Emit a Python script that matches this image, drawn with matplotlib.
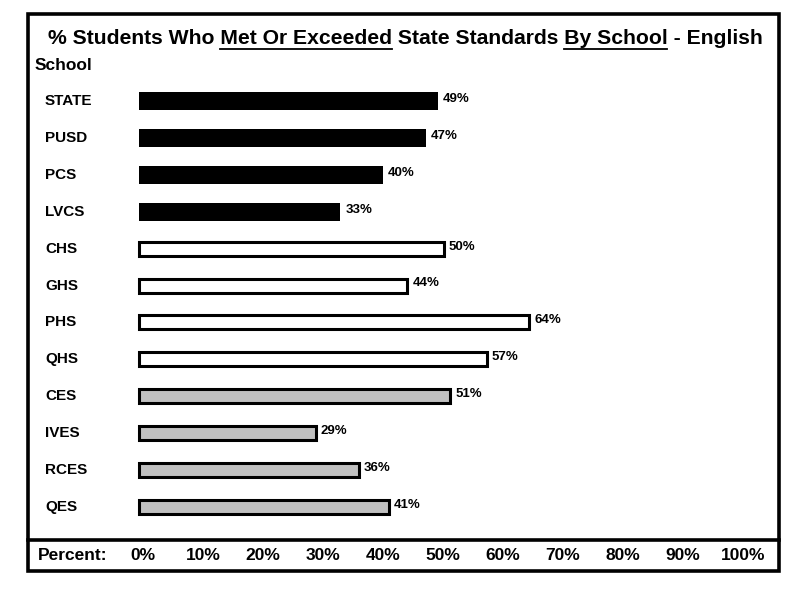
import matplotlib
matplotlib.use('Agg')
import matplotlib.pyplot as plt
from matplotlib.patches import Rectangle

plt.rcParams['font.family'] = ['Liberation Sans', 'DejaVu Sans']
plt.rcParams['font.weight'] = 'bold'

schools = ['STATE', 'PUSD', 'PCS', 'LVCS', 'CHS', 'GHS', 'PHS', 'QHS', 'CES', 'IVES', 'RCES', 'QES']
percents = [49, 47, 40, 33, 50, 44, 64, 57, 51, 29, 36, 41]
groups = ['district'] * 4 + ['high'] * 4 + ['elementary'] * 4
ticks = [0, 10, 20, 30, 40, 50, 60, 70, 80, 90, 100]
tick_labels = [f'{t}%' for t in ticks]

title_parts = [('% Students Who ', False), ('Met Or Exceeded', True), (' State Standards ', False),
               ('By School', True), (' - English', False)]

fills = {'district': 'black', 'high': 'white', 'elementary': '#c0c0c0'}

# layout in pixels (x of 0% and pixels per percent)
X0 = 139
SCALE = 6.1
TITLE_SIZE = 15.2


def px(x):
    return (x - X0) / SCALE


fig = plt.figure(figsize=(8, 6), dpi=100)
ax = fig.add_axes([0, 0, 1, 1])
ax.set_xlim(px(0), px(800))
ax.set_ylim(600, 0)
ax.axis('off')

# frame and the separator above the percent strip
ax.add_patch(Rectangle((px(28), 14), px(779) - px(28), 557, fill=False, lw=2.6, ec='black'))
ax.plot([px(28), px(779)], [540, 540], color='black', lw=2.6)

row0, step = 101, 36.9
for i, (name, val, grp) in enumerate(zip(schools, percents, groups)):
    y = row0 + i * step
    if grp == 'district':
        ax.barh(y, val, height=18, left=0, color='black')
    else:
        ax.barh(y, val, height=14, left=0, color=fills[grp], edgecolor='black', lw=2.2)
    ax.text(px(45), y, name, fontsize=11, va='center', ha='left')
    ax.text(val + 5 / SCALE, y - 2, f'{val}%', fontsize=9.5, va='center', ha='left')

ax.text(px(35), 65, 'School', fontsize=12.5, va='center', ha='left')
ax.text(px(38), 556, 'Percent:', fontsize=12.5, va='center', ha='left')
# the percent strip is spaced a little tighter than the bars
for t, lab in zip(ticks, tick_labels):
    ax.text(px(143 + 6.0 * t), 556, lab, fontsize=12.5, va='center', ha='center')

# title with underlined pieces
full = ''.join(p for p, _ in title_parts)
title = ax.text(px(405), 38, full, fontsize=TITLE_SIZE, va='center', ha='center')
fig.canvas.draw()
r = fig.canvas.get_renderer()
tb = title.get_window_extent(r)


def width(s):
    t = ax.text(0, 0, s + '|', fontsize=TITLE_SIZE)
    w = t.get_window_extent(r).width
    t.remove()
    t = ax.text(0, 0, '|', fontsize=TITLE_SIZE)
    w -= t.get_window_extent(r).width
    t.remove()
    return w


pos = ''
for part, under in title_parts:
    if under:
        a = tb.x0 + width(pos)
        b = a + width(part)
        ax.plot([px(a), px(b)], [48.5, 48.5], color='black', lw=1.3)
    pos += part

fig.savefig('out.png', dpi=100)
